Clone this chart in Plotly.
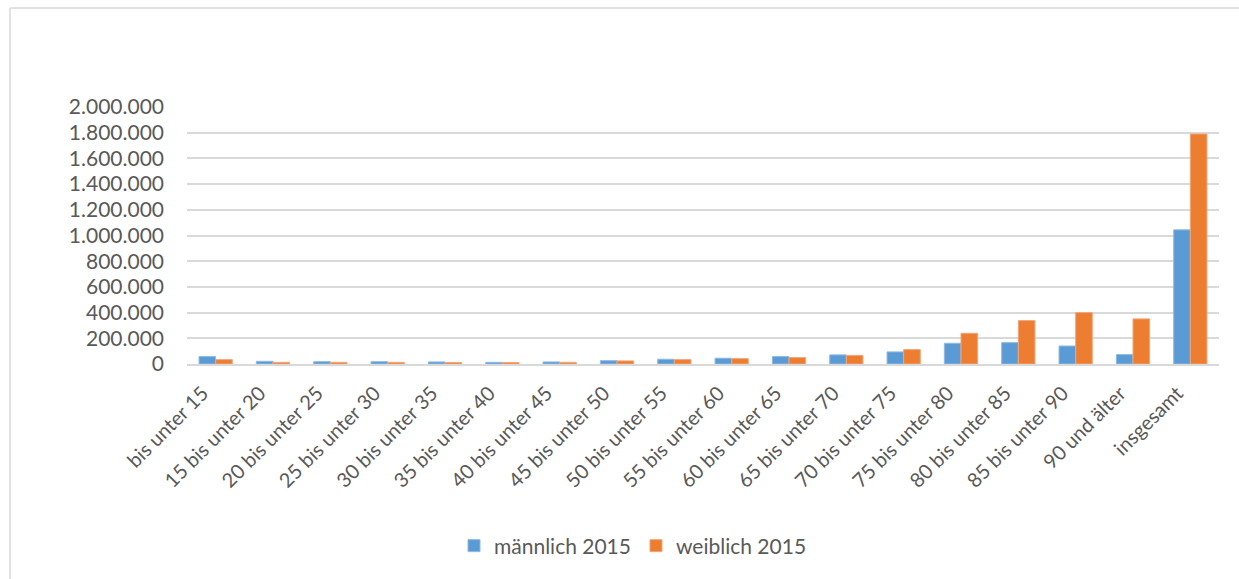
import plotly.graph_objects as go

categories = ["bis unter 15", "15 bis unter 20", "20 bis unter 25", "25 bis unter 30",
              "30 bis unter 35", "35 bis unter 40", "40 bis unter 45", "45 bis unter 50",
              "50 bis unter 55", "55 bis unter 60", "60 bis unter 65", "65 bis unter 70",
              "70 bis unter 75", "75 bis unter 80", "80 bis unter 85", "85 bis unter 90",
              "90 und älter", "insgesamt"]
maennlich_2015 = [58000, 21000, 18000, 18000, 16000, 13000, 16000, 26000, 37000, 45000,
                  58000, 71000, 94000, 161000, 166000, 140000, 73000, 1044000]
weiblich_2015 = [34000, 13000, 13000, 13000, 12000, 12000, 13000, 24000, 34000, 42000,
                 50000, 67000, 112000, 239000, 338000, 400000, 351000, 1790000]
y_tickvals = [0, 200000, 400000, 600000, 800000, 1000000, 1200000, 1400000, 1600000, 1800000, 2000000]
y_ticktext = ["0", "200.000", "400.000", "600.000", "800.000", "1.000.000", "1.200.000",
              "1.400.000", "1.600.000", "1.800.000", "2.000.000"]

W, H = 1239, 579
L, R, T, B = 187, 20, 107, 215
pw, ph = W - L - R, H - T - B

def px(x):
    return (x - L) / pw

def py(y):
    return (H - B - y) / ph

FONT = "Lato"
TXT = "#595959"
BORDER = "#D9D9D9"

fig = go.Figure()
fig.add_trace(go.Bar(x=categories, y=maennlich_2015, name="männlich 2015",
                     marker=dict(color="#5B9BD5", line=dict(color="#8DB9E3", width=1))))
fig.add_trace(go.Bar(x=categories, y=weiblich_2015, name="weiblich 2015",
                     marker=dict(color="#ED7D31", line=dict(color="#F3A577", width=1))))

fig.update_layout(
    width=W, height=H,
    margin=dict(l=L, r=R, t=T, b=B, autoexpand=False),
    paper_bgcolor="white", plot_bgcolor="white",
    barmode="group", bargap=0.42, bargroupgap=0,
    font=dict(family=FONT, size=20, color=TXT),
    showlegend=True,
    legend=dict(orientation="h", x=px(633), xanchor="center", y=py(546), yanchor="middle",
                font=dict(family=FONT, size=21, color=TXT), itemwidth=30,
                traceorder="normal"),
    shapes=[
        dict(type="line", xref="paper", yref="paper", x0=px(10), x1=px(1239), y0=py(8), y1=py(8),
             line=dict(color=BORDER, width=1.5), layer="below"),
        dict(type="line", xref="paper", yref="paper", x0=px(10), x1=px(10), y0=py(8), y1=py(579),
             line=dict(color=BORDER, width=1.5), layer="below"),
    ],
)
fig.update_xaxes(tickangle=-45, showgrid=False, showline=True, linecolor=BORDER, linewidth=1.5,
                 ticks="", tickfont=dict(family=FONT, size=20, color=TXT),
                 ticklabelstandoff=8, ticklabelshift=-13)
fig.update_yaxes(range=[0, 2000000], tickvals=y_tickvals, ticktext=y_ticktext,
                 showgrid=True, gridcolor=BORDER, gridwidth=1.5, zeroline=False,
                 showline=False, ticks="", ticklabelstandoff=22,
                 tickfont=dict(family=FONT, size=21, color=TXT))

fig.write_html("out.html", config={"displayModeBar": False},
               post_script=("document.documentElement.style.overflow='hidden';"
                            "document.body.style.margin='0';document.body.style.overflow='hidden';"))
